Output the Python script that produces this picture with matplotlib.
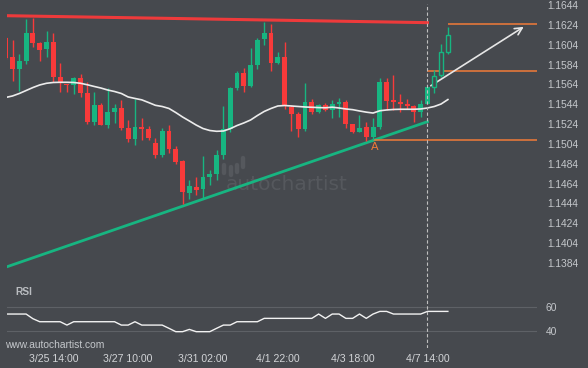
import numpy as np
import matplotlib
matplotlib.use("Agg")
import matplotlib.pyplot as plt

# 4H candles (open, high, low, close)
opens = [1.1611, 1.15916, 1.15795, 1.15876, 1.16158, 1.16057, 1.15996, 1.16067, 1.15714, 1.15644,
         1.15634, 1.15704, 1.15553, 1.15261, 1.15432, 1.15230, 1.15361, 1.15402, 1.15200, 1.15089,
         1.15210, 1.15190, 1.15049, 1.14928, 1.15170, 1.14988, 1.14868, 1.14545, 1.14606, 1.14585,
         1.14706, 1.14736, 1.14928, 1.15190, 1.15603, 1.15755, 1.15624, 1.15835, 1.16097, 1.16158,
         1.15855, 1.15916, 1.15412, 1.15341, 1.15190, 1.15462, 1.15361, 1.15432, 1.15382, 1.15442,
         1.15462, 1.15240, 1.15160, 1.15210, 1.15109, 1.15210, 1.15664, 1.15482, 1.15462, 1.15442,
         1.15422, 1.15361, 1.15442, 1.15613, 1.15734, 1.15966]
highs = [1.1612, 1.16084, 1.15943, 1.16299, 1.16309, 1.16067, 1.16178, 1.16155, 1.15855, 1.15644,
         1.15711, 1.15745, 1.15664, 1.15563, 1.15449, 1.15603, 1.15442, 1.15482, 1.15281, 1.15493,
         1.15301, 1.15220, 1.15099, 1.15200, 1.15230, 1.15019, 1.14878, 1.14676, 1.14706, 1.14918,
         1.14777, 1.14978, 1.15422, 1.15613, 1.15775, 1.15805, 1.16007, 1.16107, 1.16269, 1.16248,
         1.15966, 1.16067, 1.15432, 1.15361, 1.15654, 1.15493, 1.15442, 1.15452, 1.15482, 1.15503,
         1.15482, 1.15240, 1.15331, 1.15261, 1.15301, 1.15704, 1.15704, 1.15734, 1.15543, 1.15493,
         1.15432, 1.15482, 1.15613, 1.15785, 1.16047, 1.16218]
lows = [1.1590, 1.15677, 1.15576, 1.15842, 1.16020, 1.15879, 1.15919, 1.15664, 1.15566, 1.15566,
        1.15546, 1.15516, 1.15240, 1.15233, 1.15230, 1.15203, 1.15253, 1.15180, 1.15059, 1.15029,
        1.15079, 1.15079, 1.14898, 1.14908, 1.14948, 1.14837, 1.14434, 1.14485, 1.14525, 1.14495,
        1.14626, 1.14676, 1.14888, 1.15160, 1.15583, 1.15563, 1.15613, 1.15795, 1.16037, 1.15775,
        1.15845, 1.15392, 1.15170, 1.15109, 1.15170, 1.15341, 1.15351, 1.15372, 1.15301, 1.15311,
        1.15200, 1.15150, 1.15160, 1.15069, 1.15079, 1.15190, 1.15382, 1.15382, 1.15361, 1.15392,
        1.15261, 1.15311, 1.15442, 1.15553, 1.15714, 1.15946]
closes = [1.1591, 1.15795, 1.15876, 1.16158, 1.16057, 1.15986, 1.16067, 1.15714, 1.15657, 1.15634,
          1.15704, 1.15553, 1.15261, 1.15432, 1.15230, 1.15361, 1.15402, 1.15200, 1.15089, 1.15210,
          1.15190, 1.15099, 1.14928, 1.15170, 1.14988, 1.14858, 1.14555, 1.14616, 1.14575, 1.14706,
          1.14736, 1.14928, 1.15190, 1.15603, 1.15755, 1.15624, 1.15835, 1.16087, 1.16158, 1.15855,
          1.15916, 1.15432, 1.15341, 1.15190, 1.15462, 1.15361, 1.15432, 1.15382, 1.15442, 1.15462,
          1.15240, 1.15160, 1.15200, 1.15109, 1.15210, 1.15664, 1.15472, 1.15462, 1.15442, 1.15422,
          1.15361, 1.15442, 1.15613, 1.15724, 1.15966, 1.16138]

# moving average (white curve)
ma = [1.15508, 1.15523, 1.15548, 1.15578, 1.15608, 1.15634, 1.15651, 1.15659, 1.15661, 1.15661,
      1.15659, 1.15651, 1.15636, 1.15619, 1.15603, 1.15583, 1.15568, 1.15548, 1.15513, 1.15498,
      1.15484, 1.15457, 1.15429, 1.15417, 1.15397, 1.15356, 1.15311, 1.15271, 1.15230, 1.15195,
      1.15175, 1.15167, 1.15170, 1.15193, 1.15225, 1.15251, 1.15281, 1.15326, 1.15367, 1.15397,
      1.15422, 1.15427, 1.15422, 1.15417, 1.15412, 1.15409, 1.15406, 1.15404, 1.15410, 1.15402,
      1.15392, 1.15385, 1.15372, 1.15360, 1.15351, 1.15374, 1.15382, 1.15387, 1.15389, 1.15389,
      1.15389, 1.15392, 1.15402, 1.15417, 1.15442, 1.15487]

rsi = [53.9, 53.9, 53.9, 53.9, 50.0, 47.5, 47.5, 47.5, 47.5, 44.7,
       47.5, 47.5, 47.5, 47.5, 47.5, 47.5, 47.5, 44.7, 44.7, 47.5,
       44.7, 44.7, 44.7, 44.7, 42.0, 39.2, 39.2, 41.1, 39.2, 39.2,
       39.2, 42.0, 44.7, 44.7, 47.5, 47.5, 47.5, 47.5, 50.3, 50.3,
       50.3, 50.3, 50.3, 50.3, 50.3, 50.3, 53.9, 50.3, 53.9, 53.9,
       50.3, 50.3, 53.9, 50.3, 53.9, 56.1, 56.1, 53.9, 53.9, 53.9,
       53.9, 53.9, 56.1, 56.1, 56.1, 56.1]

n_hist = 63  # candles up to the dashed line; the rest are drawn hollow

resist_x = [1.2, 63.0]
resist_y = [1.16332, 1.16262]
support_x = [1.2, 63.0]
support_y = [1.13802, 1.15264]

level_a = 1.15075
level_a_start = 55.0
level_mid = 1.15772
level_mid_start = 63.0
target = 1.16245
target_start = 66.0
arrow_from = (63.15, 1.15611)
arrow_to = (77.5, 1.16235)

tick_pos = [8, 19, 30, 41, 52, 63]
tick_labels = ["3/25 14:00", "3/27 10:00", "3/31 02:00", "4/1 22:00", "4/3 18:00", "4/7 14:00"]
price_ticks = np.round(np.arange(1.1384, 1.1645, 0.002), 4)

bg = "#46494e"
up = "#17b581"
down = "#f83a3a"
orange = "#f27b38"
txt = "#c4c7cb"
wm = "#55585d"

W, H = 588, 368
fig = plt.figure(figsize=(W / 100, H / 100), dpi=100, facecolor=bg)
ax = fig.add_axes([7 / W, 1 - 282 / H, 530 / W, 278 / H], facecolor=bg)
ax2 = fig.add_axes([7 / W, 1 - 348 / H, 530 / W, 66 / H], facecolor=bg, sharex=ax)

x = np.arange(1, len(opens) + 1)
o = np.array(opens); c = np.array(closes)
h = np.array(highs); l = np.array(lows)
is_up = c >= o
cols = np.where(is_up, up, down)

ax.vlines(x, l, h, colors=cols, lw=1, zorder=3)
for i in range(len(x)):
    bottom = min(o[i], c[i])
    height = max(abs(c[i] - o[i]), 0.00004)
    if i >= n_hist:
        ax.bar(x[i], height, 0.62, bottom, facecolor=bg, edgecolor=up, lw=1, zorder=4)
    else:
        ax.bar(x[i], height, 0.72, bottom, color=cols[i], lw=0, zorder=4)

ax.plot(x, ma, color="#ececec", lw=1.2, zorder=5)

ax.plot(resist_x, resist_y, color=down, lw=2.2, alpha=0.95, zorder=2)
ax.plot(support_x, support_y, color=up, lw=2, zorder=2)

xmin, xmax = 1.19, 79.1
ax.hlines(level_a, level_a_start, xmax, color=orange, lw=1.1, zorder=2)
ax.hlines(level_mid, level_mid_start, xmax, color=orange, lw=1.1, zorder=2)
ax.hlines(target, target_start, xmax, color=orange, lw=1.1, zorder=2)
ax.text(level_a_start + 0.2, 1.15012, "A", color=orange, fontsize=8,
        ha="center", va="center", family="DejaVu Sans")
ax.annotate("", xy=arrow_to, xytext=arrow_from,
            arrowprops=dict(arrowstyle="->", color="#e6e6e6", lw=1.2, mutation_scale=13))

# watermark: logo bars + name
for bx, b0, b1 in [(224, 173, 165), (231, 175, 167), (237, 172, 165), (243, 167, 158)]:
    ax.plot([(bx - 7) / 530] * 2, [(282 - b0) / 278, (282 - b1) / 278], transform=ax.transAxes,
            color=wm, lw=3.2, solid_capstyle="round", zorder=1)
ax.text((287 - 7) / 530, (282 - 185) / 278, "autochartist", transform=ax.transAxes,
        color=wm, fontsize=14.5, ha="center", va="center", zorder=1)

for a in (ax, ax2):
    a.axvline(n_hist, color="#bfbfbf", lw=0.8, ls=(0, (3, 2)), zorder=6)
    for s in a.spines.values():
        s.set_visible(False)
    a.yaxis.tick_right()
    a.tick_params(length=0, colors=txt, labelsize=7.4)

ax.set_xlim(xmin, xmax)
ax.set_ylim(1.13648, 1.16450)
ax.set_yticks(price_ticks)
ax.set_yticklabels([f"{v:.4f}" for v in price_ticks], family="Liberation Sans")
ax.tick_params(axis="y", pad=7.5)
ax.tick_params(axis="x", labelbottom=False)

ax2.plot(x, rsi, color="#f2f2f2", lw=1, zorder=5)
ax2.axhline(60, color="#5e6166", lw=0.8, zorder=1)
ax2.axhline(40, color="#5e6166", lw=0.8, zorder=1)
ax2.set_ylim(25.6, 80.6)
ax2.set_yticks([40, 60])
ax2.set_yticklabels(["40", "60"], family="Liberation Sans")
ax2.tick_params(axis="y", pad=6)
ax2.set_xticks(tick_pos)
ax2.set_xticklabels(tick_labels, family="Liberation Sans", fontsize=7.6)
ax2.tick_params(axis="x", pad=4, colors="#d2d4d7")
ax2.text(8 / 530, (348 - 291.7) / 66, "RSI", transform=ax2.transAxes, color="#b9bcc0",
         fontsize=7.4, fontweight="bold", family="Liberation Sans", va="center")

fig.text(5 / W, 1 - 345 / H, "www.autochartist.com", color=txt, fontsize=7.4,
         family="Liberation Sans", va="center", ha="left")

fig.savefig("out.png", dpi=100, facecolor=bg)
